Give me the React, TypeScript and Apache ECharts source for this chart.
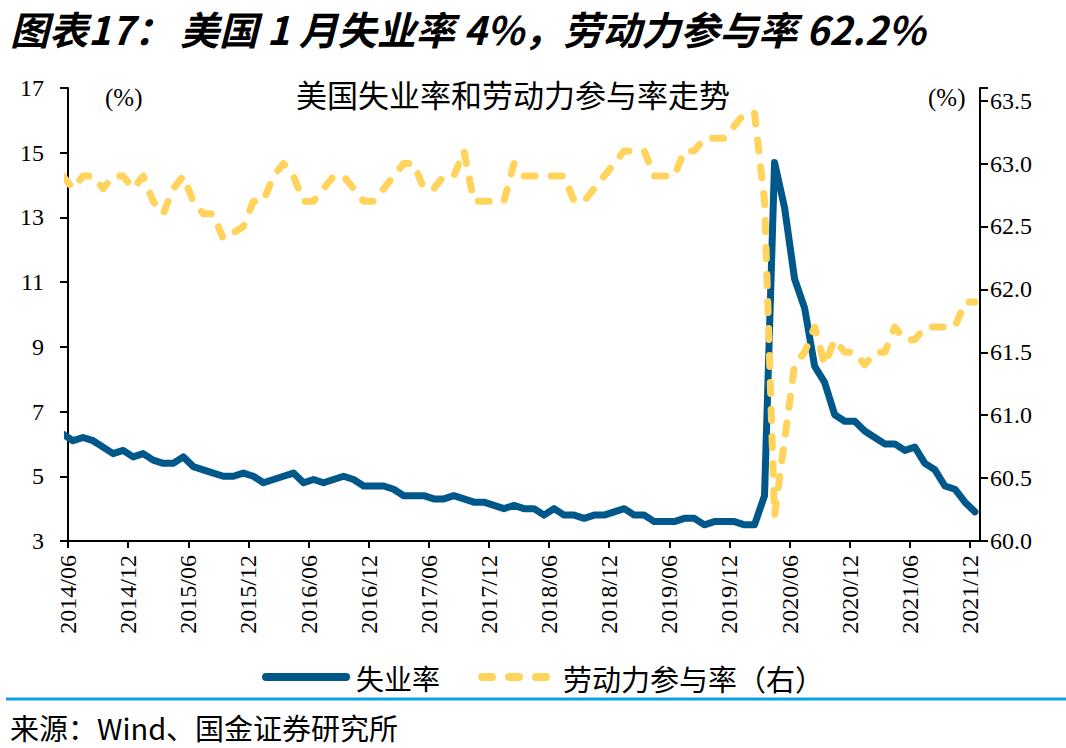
import React, { useEffect, useRef } from "react";
import * as echarts from "echarts";

// Monthly categories: 2014/05 … 2021/12 (the first month sits just left of the axis and is clipped)
const firstYear = 2014;
const firstMonth = 5;
const monthCount = 92;
const months: string[] = [];
for (let i = 0; i < monthCount; i++) {
  const m = firstMonth - 1 + i;
  const y = firstYear + Math.floor(m / 12);
  const mm = (m % 12) + 1;
  months.push(`${y}/${mm < 10 ? "0" + mm : mm}`);
}

const xTickLabels = [
  "2014/06", "2014/12", "2015/06", "2015/12", "2016/06", "2016/12", "2017/06", "2017/12",
  "2018/06", "2018/12", "2019/06", "2019/12", "2020/06", "2020/12", "2021/06", "2021/12",
];

// 失业率 (%), left axis
const unemployment = [
  6.3, 6.1, 6.2, 6.1, 5.9, 5.7, 5.8, 5.6,
  5.7, 5.5, 5.4, 5.4, 5.6, 5.3, 5.2, 5.1, 5.0, 5.0, 5.1, 5.0,
  4.8, 4.9, 5.0, 5.1, 4.8, 4.9, 4.8, 4.9, 5.0, 4.9, 4.7, 4.7,
  4.7, 4.6, 4.4, 4.4, 4.4, 4.3, 4.3, 4.4, 4.3, 4.2, 4.2, 4.1,
  4.0, 4.1, 4.0, 4.0, 3.8, 4.0, 3.8, 3.8, 3.7, 3.8, 3.8, 3.9,
  4.0, 3.8, 3.8, 3.6, 3.6, 3.6, 3.7, 3.7, 3.5, 3.6, 3.6, 3.6,
  3.5, 3.5, 4.4, 14.7, 13.3, 11.1, 10.2, 8.4, 7.9, 6.9, 6.7, 6.7,
  6.4, 6.2, 6.0, 6.0, 5.8, 5.9, 5.4, 5.2, 4.7, 4.6, 4.2, 3.9,
];

// 劳动力参与率 (%), right axis
const participation = [
  62.9, 62.8, 62.9, 62.9, 62.8, 62.9, 62.9, 62.8,
  62.9, 62.7, 62.6, 62.8, 62.9, 62.7, 62.6, 62.6, 62.4, 62.45, 62.5, 62.7,
  62.7, 62.9, 63.0, 62.9, 62.7, 62.7, 62.8, 62.9, 62.9, 62.8, 62.7, 62.7,
  62.8, 62.9, 63.0, 63.0, 62.8, 62.8, 62.9, 62.9, 63.1, 62.7, 62.7, 62.7,
  62.7, 63.0, 62.9, 62.9, 62.9, 62.9, 62.9, 62.7, 62.7, 62.8, 62.9, 63.0,
  63.1, 63.1, 63.1, 62.9, 62.9, 62.9, 63.1, 63.1, 63.2, 63.2, 63.2, 63.3,
  63.4, 63.4, 62.7, 60.2, 60.8, 61.4, 61.5, 61.7, 61.4, 61.6, 61.5, 61.5,
  61.4, 61.5, 61.5, 61.7, 61.6, 61.6, 61.7, 61.7, 61.7, 61.7, 61.9, 61.9,
];

const seriesNames = ["失业率", "劳动力参与率（右）"];
const titleLead = "图表17：";
const titleBody = "美国 1 月失业率 4%，劳动力参与率 62.2%";
const chartTitle = "美国失业率和劳动力参与率走势";
const sourceText = "来源：Wind、国金证券研究所";

const BLUE = "#00578A";
const YELLOW = "#FFD35C";
const SERIF = "'Liberation Serif', 'Times New Roman', serif";
const CJK = "'Noto Sans CJK SC', sans-serif";

// months since 2014/06, points placed mid-month
const monthPos = (s: string) => {
  const [y, m] = s.split("/").map(Number);
  return (y - 2014) * 12 + (m - 6) + 0.5;
};

const titleStyle = {
  fontSize: 39,
  fontWeight: "bold",
  fontStyle: "italic",
  fontFamily: CJK,
  fill: "#000",
  align: "left",
  verticalAlign: "middle",
};

export default function App() {
  const ref = useRef<HTMLDivElement>(null);
  useEffect(() => {
    if (!ref.current) return;
    const chart = echarts.init(ref.current, null, { renderer: "svg" });
    const option: any = {
      animation: false,
      backgroundColor: "#fff",
      grid: { left: 68, right: 86, top: 88, bottom: 207, containLabel: false, outerBoundsMode: "none" },
      xAxis: {
        type: "value",
        min: 0,
        max: 91,
        interval: 6,
        splitLine: { show: false },
        axisLine: { show: true, lineStyle: { color: "#000", width: 2 } },
        axisTick: { show: true, inside: false, length: 7, lineStyle: { color: "#000", width: 2 } },
        axisLabel: {
          rotate: 90,
          margin: 14,
          fontFamily: SERIF,
          fontSize: 24,
          color: "#000",
          showMaxLabel: false,
          formatter: (v: number) => {
            const k = Math.round(v / 6);
            return Math.abs(v - k * 6) < 1e-6 && k < xTickLabels.length ? xTickLabels[k] : "";
          },
        },
      },
      yAxis: [
        {
          type: "value",
          position: "left",
          min: 3,
          max: 17,
          interval: 2,
          splitLine: { show: false },
          axisLine: { show: true, lineStyle: { color: "#000", width: 2 } },
          axisTick: { show: true, inside: false, length: 8, lineStyle: { color: "#000", width: 2 } },
          axisLabel: { margin: 24, fontFamily: SERIF, fontSize: 24, color: "#000" },
        },
        {
          type: "value",
          position: "right",
          min: 60,
          max: 63.6,
          interval: 0.5,
          splitLine: { show: false },
          axisLine: { show: true, lineStyle: { color: "#000", width: 2 } },
          axisTick: { show: true, inside: false, length: 8, lineStyle: { color: "#000", width: 2 } },
          axisLabel: {
            margin: 10,
            fontFamily: SERIF,
            fontSize: 24,
            color: "#000",
            formatter: (v: number) => (v > 63.55 ? "" : v.toFixed(1)),
          },
        },
      ],
      series: [
        {
          name: seriesNames[0],
          type: "line",
          yAxisIndex: 0,
          symbol: "none",
          clip: true,
          lineStyle: { color: BLUE, width: 7, join: "round", cap: "round" },
          data: months.map((m, i) => [monthPos(m), unemployment[i]]),
          z: 2,
        },
        {
          name: seriesNames[1],
          type: "line",
          yAxisIndex: 1,
          symbol: "none",
          clip: true,
          lineStyle: { color: YELLOW, width: 7, type: [11, 16], cap: "round", join: "round" },
          data: months.map((m, i) => [monthPos(m), participation[i]]),
          z: 3,
        },
      ],
      graphic: [
        { type: "text", x: 10, y: 28, style: { ...titleStyle, text: titleLead } },
        { type: "text", x: 180, y: 28, style: { ...titleStyle, text: titleBody } },
        {
          type: "text",
          x: 513,
          y: 93,
          style: { text: chartTitle, fontSize: 31, fontFamily: CJK, fill: "#000", align: "center", verticalAlign: "middle" },
        },
        {
          type: "text",
          x: 105,
          y: 97,
          style: { text: "(%)", fontSize: 25, fontFamily: SERIF, fill: "#000", align: "left", verticalAlign: "middle" },
        },
        {
          type: "text",
          x: 928,
          y: 97,
          style: { text: "(%)", fontSize: 25, fontFamily: SERIF, fill: "#000", align: "left", verticalAlign: "middle" },
        },
        {
          type: "line",
          shape: { x1: 266, y1: 677, x2: 346, y2: 677 },
          style: { stroke: BLUE, lineWidth: 8, lineCap: "round" },
        },
        {
          type: "text",
          x: 356,
          y: 678,
          style: { text: seriesNames[0], fontSize: 28, fontFamily: CJK, fill: "#000", align: "left", verticalAlign: "middle" },
        },
        {
          type: "line",
          shape: { x1: 482, y1: 677, x2: 548, y2: 677 },
          style: { stroke: YELLOW, lineWidth: 8, lineCap: "round", lineDash: [10, 17] },
        },
        {
          type: "text",
          x: 563,
          y: 678,
          style: { text: seriesNames[1], fontSize: 29, fontFamily: CJK, fill: "#000", align: "left", verticalAlign: "middle" },
        },
        {
          type: "line",
          shape: { x1: 6, y1: 699, x2: 1066, y2: 699 },
          style: { stroke: "#0AA0E6", lineWidth: 3 },
        },
        {
          type: "text",
          x: 10,
          y: 727,
          style: { text: sourceText, fontSize: 29, fontFamily: CJK, fill: "#000", align: "left", verticalAlign: "middle" },
        },
      ],
    };
    chart.setOption(option);
    return () => chart.dispose();
  }, []);
  return (
    <div
      ref={ref}
      style={{ position: "fixed", left: 0, top: 0, width: 1066, height: 748, background: "#fff" }}
    />
  );
}
